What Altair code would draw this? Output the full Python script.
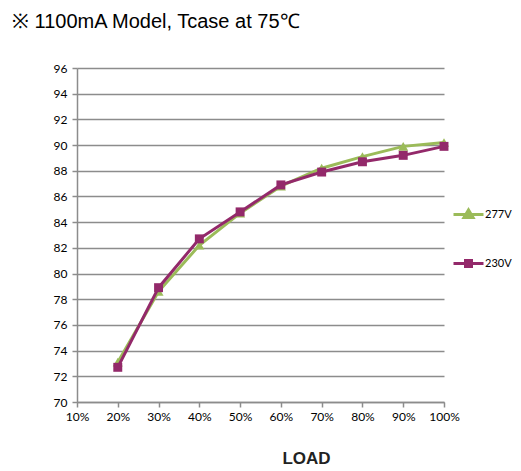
import altair as alt
import pandas as pd

loads = [20, 30, 40, 50, 60, 70, 80, 90, 100]
eff_277 = [73.1, 78.6, 82.2, 84.7, 86.8, 88.2, 89.1, 89.9, 90.2]
eff_230 = [72.7, 78.9, 82.7, 84.8, 86.9, 87.9, 88.7, 89.2, 89.9]
series = ["277V", "230V"]
colors = ["#9BBB59", "#93296A"]
x_ticks = [10, 20, 30, 40, 50, 60, 70, 80, 90, 100]
y_ticks = [70, 72, 74, 76, 78, 80, 82, 84, 86, 88, 90, 92, 94, 96]

rows = []
for l, a, b in zip(loads, eff_277, eff_230):
    rows.append({"Load": l, "Eff": a, "Series": "277V"})
    rows.append({"Load": l, "Eff": b, "Series": "230V"})
df = pd.DataFrame(rows)

grid_color = "#8C8C8C"
lab_font = "Lato"

x_enc = alt.X("Load:Q", scale=alt.Scale(domain=[10, 100], nice=False),
              axis=alt.Axis(values=x_ticks, labelExpr="datum.value + '%'", grid=False,
                            labelOverlap=False, labelFlush=False,
                            domainColor=grid_color, domainWidth=1.5, tickColor=grid_color,
                            tickWidth=1.5, tickSize=5, labelFont=lab_font, labelFontSize=12,
                            labelColor="#000000", labelPadding=4,
                            title="LOAD", titleFont="Liberation Sans", titleFontSize=17,
                            titleFontWeight="bold", titleColor="#222222", titlePadding=28,
                            titleX=229, titleAnchor="middle"))
y_enc = alt.Y("Eff:Q", scale=alt.Scale(domain=[70, 96], nice=False, zero=False),
              axis=alt.Axis(values=y_ticks, tickCount=14, grid=True, gridColor=grid_color,
                            gridWidth=1.5, labelOverlap=False, labelFlush=False,
                            domainColor=grid_color, domainWidth=1.5, tickColor=grid_color,
                            tickWidth=1.5, tickSize=5, labelFont=lab_font, labelFontSize=12,
                            labelColor="#000000", labelPadding=5, title=None))

base = alt.Chart(df)


def series_layers(name, color, shape, size):
    sub = base.transform_filter(alt.datum.Series == name)
    ln = sub.mark_line(strokeWidth=3, color=color).encode(x=x_enc, y=y_enc, order=alt.Order("Load:Q"))
    pt = sub.mark_point(shape=shape, filled=True, size=size, opacity=1, color=color).encode(x=x_enc, y=y_enc)
    return [ln, pt]


layers = series_layers("277V", colors[0], "triangle-up", 100) + \
         series_layers("230V", colors[1], "square", 80)

leg_shapes = [
    "M-1,0H1M-0.3,0.2L0,-0.3L0.3,0.2Z",
    "M-1,0H1M-0.2,-0.2H0.2V0.2H-0.2Z",
]
legend = alt.Legend(orient="none", legendX=375, legendY=130, title=None, padding=0,
                    symbolSize=900, symbolStrokeWidth=3, rowPadding=23,
                    labelFont=lab_font, labelFontSize=11, labelColor="#000000",
                    labelOffset=0)
leg = base.transform_filter("datum.Load < 0").mark_point(filled=True, opacity=1).encode(
    x=x_enc, y=y_enc,
    shape=alt.Shape("Series:N", scale=alt.Scale(domain=series, range=leg_shapes), legend=legend),
    fill=alt.Fill("Series:N", scale=alt.Scale(domain=series, range=colors), legend=legend),
    stroke=alt.Stroke("Series:N", scale=alt.Scale(domain=series, range=colors), legend=legend),
)

chart = alt.layer(*layers, leg).properties(
    width=367, height=334,
    title=alt.TitleParams("※  1100mA Model, Tcase at 75℃", anchor="start", frame="group",
                          font="Liberation Sans", fontSize=20, fontWeight="normal",
                          color="#000000", dx=-65, offset=30),
    padding={"left": 69, "top": 60, "right": 69, "bottom": 68},
    autosize=alt.AutoSizeParams(type="none"),
).configure_view(stroke=None)

chart.save("out.html", embed_options={"renderer": "svg", "actions": False})
